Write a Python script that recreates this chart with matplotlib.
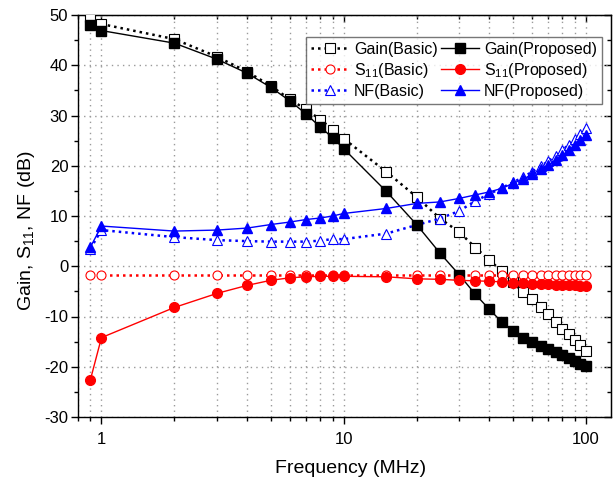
import matplotlib
matplotlib.use("Agg")
import matplotlib.pyplot as plt
from matplotlib.ticker import LogLocator, FixedLocator, FixedFormatter, NullFormatter, MultipleLocator

plt.rcParams['font.family'] = ['Liberation Sans', 'DejaVu Sans']
plt.rcParams['mathtext.fontset'] = 'custom'
plt.rcParams['mathtext.rm'] = 'Liberation Sans'
plt.rcParams['axes.unicode_minus'] = False

freq = [0.9, 1, 2, 3, 4, 5, 6, 7, 8, 9, 10, 15, 20, 25, 30, 35, 40, 45,
        50, 55, 60, 65, 70, 75, 80, 85, 90, 95, 100]

gain_basic = [49.6, 48.2, 45.2, 41.7, 38.7, 35.9, 33.2, 31.2, 29.2, 27.2, 25.4,
              18.8, 13.8, 9.5, 6.8, 3.7, 1.2, -1.0, -3.2, -5.1, -6.6, -8.2,
              -9.6, -11.1, -12.4, -13.5, -14.7, -15.7, -16.8]
gain_prop = [48.0, 46.9, 44.4, 41.2, 38.4, 35.6, 32.9, 30.3, 27.7, 25.6, 23.4,
             14.9, 8.3, 2.6, -1.7, -5.6, -8.6, -11.1, -12.8, -14.2, -15.1,
             -15.8, -16.5, -17.1, -17.7, -18.3, -18.9, -19.4, -19.9]
s11_basic = [-1.8] * 29
s11_prop = [-22.6, -14.2, -8.2, -5.4, -3.8, -2.8, -2.3, -2.1, -2.0, -2.0, -2.0,
            -2.1, -2.5, -2.6, -2.8, -2.9, -3.0, -3.1, -3.3, -3.4, -3.5, -3.5,
            -3.6, -3.7, -3.7, -3.8, -3.8, -3.9, -3.9]
nf_basic = [3.5, 7.2, 5.8, 5.2, 5.0, 4.9, 4.9, 4.9, 5.1, 5.4, 5.4, 6.5, 8.2,
            9.5, 11.0, 13.0, 14.4, 15.6, 16.7, 17.7, 18.8, 19.9, 20.9, 22.0,
            23.1, 24.2, 25.3, 26.4, 27.5]
nf_prop = [3.8, 8.0, 7.0, 7.2, 7.6, 8.3, 8.8, 9.3, 9.6, 10.0, 10.5, 11.5, 12.5,
           12.8, 13.5, 14.2, 14.8, 15.5, 16.5, 17.3, 18.3, 19.3, 20.1, 21.1,
           22.1, 23.1, 24.1, 25.1, 26.1]

xticks = [1, 10, 100]
xticklabels = ['1', '10', '100']
yticks = [-30, -20, -10, 0, 10, 20, 30, 40, 50]

fig = plt.figure(figsize=(6.13, 4.82), dpi=100)
ax = fig.add_axes([78/613, (482-417)/482, 533/613, 402/482])

dot = (0, (1, 1.6))
ms = 6.5
ax.plot(freq, gain_basic, color='black', ls=dot, lw=1.8, marker='s', ms=ms,
        mfc='white', mec='black', mew=0.8, label='Gain(Basic)', zorder=3)
ax.plot(freq, s11_basic, color='red', ls=dot, lw=1.8, marker='o', ms=ms,
        mfc='white', mec='red', mew=0.8, label='S$_{11}$(Basic)', zorder=3)
ax.plot(freq, nf_basic, color='blue', ls=dot, lw=1.8, marker='^', ms=ms+1,
        mfc='white', mec='blue', mew=0.8, label='NF(Basic)', zorder=3)
ax.plot(freq, gain_prop, color='black', ls='-', lw=1.0, marker='s', ms=ms,
        mfc='black', mec='black', label='Gain(Proposed)', zorder=4)
ax.plot(freq, s11_prop, color='red', ls='-', lw=1.0, marker='o', ms=ms+0.5,
        mfc='red', mec='red', label='S$_{11}$(Proposed)', zorder=4)
ax.plot(freq, nf_prop, color='blue', ls='-', lw=1.0, marker='^', ms=ms+1,
        mfc='blue', mec='blue', label='NF(Proposed)', zorder=4)

ax.set_xscale('log')
ax.set_xlim(0.8, 127)
ax.set_ylim(-30, 50)
ax.xaxis.set_major_locator(FixedLocator(xticks))
ax.xaxis.set_major_formatter(FixedFormatter(xticklabels))
ax.xaxis.set_minor_locator(LogLocator(base=10, subs=range(2, 10), numticks=20))
ax.xaxis.set_minor_formatter(NullFormatter())
ax.yaxis.set_major_locator(FixedLocator(yticks))
ax.yaxis.set_minor_locator(MultipleLocator(5))

ax.grid(which='both', axis='x', color='#9a9a9a', ls=(0, (1, 3)), lw=1.0, zorder=0)
ax.grid(which='major', axis='y', color='#9a9a9a', ls=(0, (1, 3)), lw=1.0, zorder=0)

ax.tick_params(axis='both', which='major', direction='out', length=5, width=1,
               labelsize=12, top=False, right=False)
ax.tick_params(axis='both', which='minor', direction='out', length=3, width=1,
               top=False, right=False)
ax.tick_params(axis='x', which='major', pad=6)
ax.tick_params(axis='y', which='major', pad=2)

secx = ax.secondary_xaxis('top')
secx.xaxis.set_major_locator(FixedLocator(xticks))
secx.xaxis.set_minor_locator(LogLocator(base=10, subs=range(2, 10), numticks=20))
secx.tick_params(which='major', direction='in', length=5, width=1, labeltop=False)
secx.tick_params(which='minor', direction='in', length=3, width=1)
secx.xaxis.set_minor_formatter(NullFormatter())

secy = ax.secondary_yaxis('right')
secy.yaxis.set_major_locator(FixedLocator(yticks))
secy.yaxis.set_minor_locator(MultipleLocator(5))
secy.tick_params(which='major', direction='in', length=5, width=1, labelright=False)
secy.tick_params(which='minor', direction='in', length=3, width=1)

for sp in ax.spines.values():
    sp.set_linewidth(1.0)

ax.set_xlabel('Frequency (MHz)', fontsize=14)
ax.set_ylabel('Gain, S$_{11}$, NF (dB)', fontsize=14)
ax.xaxis.set_label_coords(0.512, -0.108)
ax.yaxis.set_label_coords(-0.077, 0.463)

leg = ax.legend(loc='upper right', bbox_to_anchor=(0.983, 0.945), ncol=2,
                fontsize=11.5, frameon=True, fancybox=False, edgecolor='#555555',
                handlelength=2.4, handletextpad=0.3, columnspacing=0.2,
                labelspacing=0.25, borderpad=0.3, borderaxespad=0)
leg.get_frame().set_linewidth(1.0)

fig.savefig('out.png', dpi=100)
